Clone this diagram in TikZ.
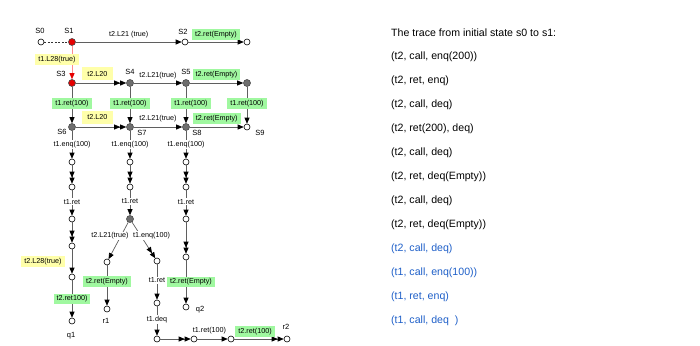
\documentclass[tikz,border=0pt]{standalone}
\usepackage{fontspec}
\setmainfont{Liberation Sans}
\usetikzlibrary{arrows.meta, positioning}
\definecolor{linegray}{RGB}{95, 95, 95}
\definecolor{labelgreen}{RGB}{160, 248, 160}
\definecolor{labelyellow}{RGB}{255, 255, 170}
\definecolor{statered}{RGB}{230, 0, 0}
\definecolor{pathred}{RGB}{255, 140, 140}
\definecolor{statedark}{RGB}{110, 110, 110}
\definecolor{traceblue}{RGB}{30, 95, 200}

\begin{document}
\begin{tikzpicture}[
    x=1pt, y=-1pt,
    font=\fontsize{7.2}{8}\selectfont,
    openst/.style={
        circle, draw=black, fill=white, line width=0.6pt,
        inner sep=0pt, minimum size=6pt
    },
    darkst/.style={
        circle, draw=black!70, fill=statedark, line width=0.6pt,
        inner sep=0pt, minimum size=7pt
    },
    redst/.style={
        circle, draw=black!70, fill=statered, line width=0.6pt,
        inner sep=0pt, minimum size=7pt
    },
    stname/.style={inner sep=0pt, font=\fontsize{7.5}{8}\selectfont},
    arr/.style={
        -{Triangle[length=6pt, width=5pt, color=black]},
        line width=0.7pt, draw=linegray
    },
    darr/.style={
        -{Triangle[length=6pt, width=5pt, color=black] Triangle[length=6pt, width=5pt, color=black]},
        line width=0.7pt, draw=linegray
    },
    redarr/.style={
        -{Triangle[length=6pt, width=5pt, color=statered]},
        line width=0.9pt, draw=pathred
    },
    dashline/.style={dash pattern=on 2pt off 1.5pt, line width=0.6pt, draw=black!80},
    lbl/.style={fill=white, inner sep=1pt},
    gbox/.style={fill=labelgreen, inner xsep=3pt, inner ysep=2pt},
    ybox/.style={fill=labelyellow, inner xsep=3pt, inner ysep=2pt},
    trace/.style={anchor=west, inner sep=0pt, font=\fontsize{10.6}{12}\selectfont}
]
\useasboundingbox (0,0) rectangle (700,345);

% 1. Grid of states S0 - S9
\node[openst] (s0) at (41,42) {};
\node[redst] (s1) at (72,42) {};
\node[openst] (s2) at (185,42) {};
\node[openst] (s2end) at (247,42) {};

\node[redst] (s3) at (72,83) {};
\node[darkst] (s4) at (130,83) {};
\node[darkst] (s5) at (186,83) {};
\node[darkst] (s5end) at (247,83) {};

\node[darkst] (s6) at (72,127) {};
\node[darkst] (s7) at (130,127) {};
\node[darkst] (s8) at (186,127) {};
\node[openst] (s9) at (247,127) {};

\node[stname] (s0name) at (40,31) {S0};
\node[stname] (s1name) at (69,31) {S1};
\node[stname] (s2name) at (183,32) {S2};
\node[stname] (s3name) at (61,74) {S3};
\node[stname] (s4name) at (130,72) {S4};
\node[stname] (s5name) at (186,72) {S5};
\node[stname] (s6name) at (62,132) {S6};
\node[stname] (s7name) at (142,133) {S7};
\node[stname] (s8name) at (197,133) {S8};
\node[stname] (s9name) at (260,133) {S9};

% 2. Chain below S6
\node[openst] (a1) at (72,162) {};
\node[openst] (a2) at (72,187) {};
\node[openst] (a3) at (72,219) {};
\node[openst] (a4) at (72,246) {};
\node[openst] (a5) at (72,277) {};
\node[openst] (q1) at (72,321) {};
\node[stname] (q1name) at (71,336) {q1};

% 3. Chain below S7 (two branches)
\node[openst] (b1) at (130,162) {};
\node[openst] (b2) at (130,187) {};
\node[darkst] (b3) at (130,219) {};
\node[openst] (c1) at (107,262) {};
\node[openst] (r1) at (107,309) {};
\node[stname] (r1name) at (106,321) {r1};
\node[openst] (d1) at (157,261) {};
\node[openst] (d2) at (157,303) {};
\node[openst] (d3) at (157,339) {};
\node[openst] (d4) at (194,339) {};
\node[openst] (d5) at (231,339) {};
\node[openst] (r2) at (287,339) {};
\node[stname] (r2name) at (286,327) {r2};

% 4. Chain below S8
\node[openst] (e1) at (186,162) {};
\node[openst] (e2) at (186,187) {};
\node[openst] (e3) at (186,219) {};
\node[openst] (e4) at (186,257) {};
\node[openst] (q2) at (186,307) {};
\node[stname] (q2name) at (200,310) {q2};

% 5. Trace listing
\node[trace] (trace0) at (391,33) {The trace from initial state s0 to s1:};
\node[trace] (trace1) at (391,57) {(t2, call, enq(200))};
\node[trace] (trace2) at (391,81) {(t2, ret, enq)};
\node[trace] (trace3) at (391,105) {(t2, call, deq)};
\node[trace] (trace4) at (391,129) {(t2, ret(200), deq)};
\node[trace] (trace5) at (391,153) {(t2, call, deq)};
\node[trace] (trace6) at (391,177) {(t2, ret, deq(Empty))};
\node[trace] (trace7) at (391,201) {(t2, call, deq)};
\node[trace] (trace8) at (391,225) {(t2, ret, deq(Empty))};
\node[trace, text=traceblue] (trace9) at (391,249) {(t2, call, deq)};
\node[trace, text=traceblue] (trace10) at (391,273) {(t1, call, enq(100))};
\node[trace, text=traceblue] (trace11) at (391,297) {(t1, ret, enq)};
\node[trace, text=traceblue] (trace12) at (391,321) {(t1, call, deq\ \ )};

% ================= Transitions =================

% top row
\draw[dashline] (s0) -- (s1);
\draw[arr] (s1) -- node[lbl, above=3pt]{t2.L21 (true)} (s2);
\draw[arr] (s2) -- node[gbox, above=1.5pt]{t2.ret(Empty)} (s2end);
\draw[redarr] (s1) -- node[ybox, pos=0.4, xshift=-15pt]{t1.L28(true)} (s3);

% second row
\draw[darr] (s3) -- node[ybox, minimum width=31pt, minimum height=13pt, pos=0.43, above=2.5pt]{t2.L20} (s4);
\draw[arr] (s4) -- node[lbl, above=3pt]{t2.L21(true)} (s5);
\draw[arr] (s5) -- node[gbox, above=3pt]{t2.ret(Empty)} (s5end);

% verticals between rows
\draw[arr] (s3) -- node[gbox, pos=0.45]{t1.ret(100)} (s6);
\draw[arr] (s4) -- node[gbox, pos=0.45]{t1.ret(100)} (s7);
\draw[arr] (s5) -- node[gbox, pos=0.45, xshift=5pt]{t1.ret(100)} (s8);
\draw[arr] (s5end) -- node[gbox, pos=0.45]{t1.ret(100)} (s9);

% third row
\draw[darr] (s6) -- node[ybox, minimum width=31pt, minimum height=13pt, pos=0.43, above=3pt]{t2.L20} (s7);
\draw[arr] (s7) -- node[lbl, above=4pt]{t2.L21(true)} (s8);
\draw[arr] (s8) -- node[gbox, above=2.5pt]{t2.ret(Empty)} (s9);

% chain below S6
\draw[arr] (s6) -- node[lbl]{t1.enq(100)} (a1);
\draw[darr] (a1) -- (a2);
\draw[arr] (a2) -- node[lbl, pos=0.45]{t1.ret} (a3);
\draw[darr] (a3) -- (a4);
\draw[arr] (a4) -- node[ybox, left=7pt]{t2.L28(true)} (a5);
\draw[arr] (a5) -- node[gbox]{t2.ret100)} (q1);

% chain below S7
\draw[arr] (s7) -- node[lbl]{t1.enq(100)} (b1);
\draw[darr] (b1) -- (b2);
\draw[arr] (b2) -- node[lbl, pos=0.45]{t1.ret} (b3);
\draw[arr] (b3) -- node[lbl, pos=0.37, xshift=-11pt]{t2.L21(true)} (c1);
\draw[arr] (c1) -- node[gbox, pos=0.4]{t2.ret(Empty)} (r1);
\draw[darr] (b3) -- node[lbl, pos=0.37, xshift=11pt]{t1.enq(100)} (d1);
\draw[arr] (d1) -- node[lbl, pos=0.45]{t1.ret} (d2);
\draw[arr] (d2) -- node[lbl, pos=0.45]{t1.deq} (d3);
\draw[darr] (d3) -- (d4);
\draw[arr] (d4) -- node[lbl, pos=0.4, above=4pt]{t1.ret(100)} (d5);
\draw[darr] (d5) -- node[gbox, pos=0.42, above=2pt]{t2.ret(100)} (r2);

% chain below S8
\draw[arr] (s8) -- node[lbl]{t1.enq(100)} (e1);
\draw[darr] (e1) -- (e2);
\draw[arr] (e2) -- node[lbl, pos=0.45]{t1.ret} (e3);
\draw[darr] (e3) -- (e4);
\draw[arr] (e4) -- node[gbox, xshift=5pt]{t2.ret(Empty)} (q2);

\end{tikzpicture}
\end{document}
